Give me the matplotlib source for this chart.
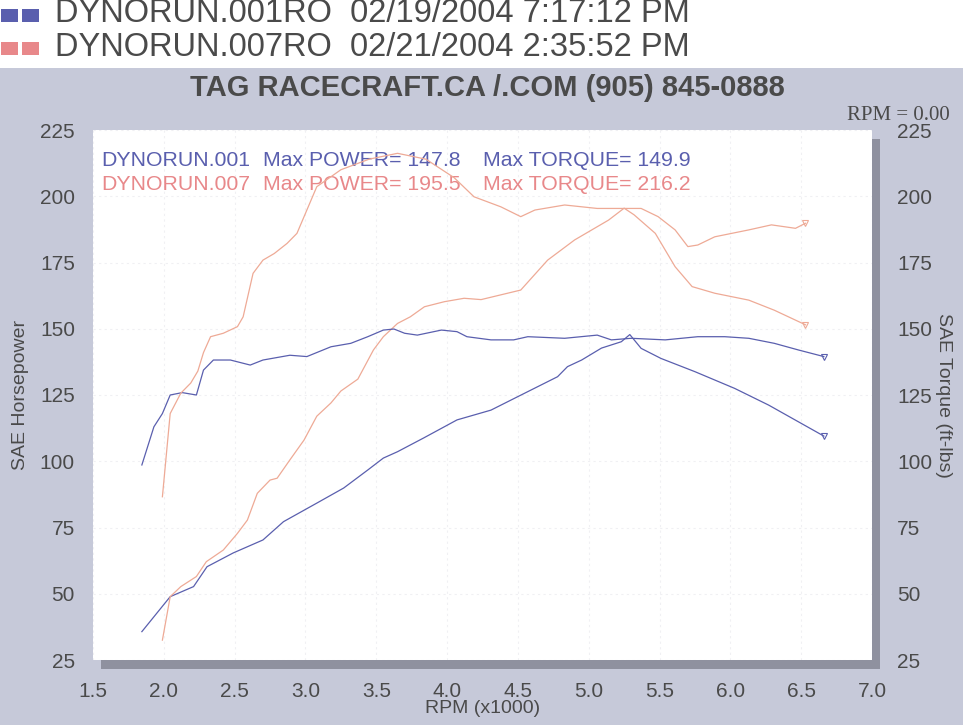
import matplotlib
matplotlib.use("Agg")
import matplotlib.pyplot as plt
from matplotlib.patches import Rectangle

# run 001 (blue) - horsepower
rpm_hp_001 = [1.845, 2.045, 2.21, 2.305, 2.49, 2.70, 2.845, 3.08, 3.27, 3.44, 3.55, 3.65,
              3.835, 4.07, 4.31, 4.50, 4.78, 4.85, 4.95, 5.09, 5.23, 5.29, 5.37, 5.51,
              5.75, 6.03, 6.27, 6.50, 6.66]
hp_001 = [35.7, 48.9, 52.7, 60.2, 65.4, 70.3, 77.2, 84.2, 89.9, 96.7, 101.2, 103.6,
          108.8, 115.6, 119.3, 124.4, 131.9, 135.7, 138.2, 142.7, 145.1, 147.8, 142.6, 138.8,
          133.8, 127.5, 121.2, 114.3, 109.5]

# run 001 (blue) - torque
rpm_tq_001 = [1.845, 1.93, 1.99, 2.045, 2.13, 2.23, 2.28, 2.35, 2.47, 2.61, 2.70, 2.89,
              3.01, 3.18, 3.32, 3.44, 3.55, 3.625, 3.70, 3.79, 3.96, 4.07, 4.14, 4.31,
              4.47, 4.57, 4.83, 5.06, 5.16, 5.30, 5.54, 5.77, 5.96, 6.13, 6.31, 6.48, 6.66]
tq_001 = [98.6, 113.0, 118.0, 125.0, 125.9, 125.0, 134.4, 138.2, 138.2, 136.3, 138.2, 140.0,
          139.5, 143.2, 144.5, 147.0, 149.5, 149.9, 148.3, 147.6, 149.5, 148.9, 147.0, 145.8,
          145.8, 147.0, 146.4, 147.6, 145.8, 146.4, 145.8, 147.0, 147.0, 146.4, 144.5, 142.0, 139.5]

# run 007 (red) - horsepower
rpm_hp_007 = [1.99, 2.045, 2.12, 2.23, 2.30, 2.42, 2.52, 2.59, 2.66, 2.75, 2.80, 2.89,
              2.99, 3.08, 3.18, 3.25, 3.37, 3.48, 3.55, 3.65, 3.74, 3.84, 3.98, 4.12,
              4.24, 4.52, 4.71, 4.90, 5.14, 5.25, 5.32, 5.47, 5.61, 5.73, 5.89, 6.13,
              6.31, 6.53]
hp_007 = [32.5, 48.9, 52.7, 56.5, 62.1, 66.5, 72.8, 77.8, 87.9, 92.9, 93.6, 100.5,
          108.0, 117.0, 122.0, 126.5, 131.0, 142.0, 147.0, 152.0, 154.5, 158.3, 160.2, 161.5,
          161.0, 164.6, 175.9, 183.5, 191.0, 195.5, 193.0, 186.0, 173.4, 165.9, 163.4, 160.8,
          157.0, 151.5]

# run 007 (red) - torque
rpm_tq_007 = [1.99, 2.045, 2.12, 2.19, 2.24, 2.28, 2.33, 2.42, 2.52, 2.56, 2.63, 2.70,
              2.78, 2.87, 2.94, 3.01, 3.08, 3.25, 3.45, 3.65, 3.85, 4.05, 4.19, 4.38,
              4.52, 4.62, 4.83, 5.06, 5.37, 5.49, 5.61, 5.70, 5.77, 5.89, 6.13, 6.29,
              6.46, 6.53]
tq_007 = [86.6, 118.0, 125.7, 129.5, 134.0, 141.0, 147.0, 148.3, 150.8, 154.5, 170.9, 175.9,
          178.4, 182.2, 186.0, 194.8, 203.6, 210.0, 214.0, 216.2, 214.0, 207.0, 199.8, 196.0,
          192.3, 194.8, 196.7, 195.4, 195.4, 192.3, 187.3, 181.0, 181.6, 184.7, 187.3, 189.2,
          187.9, 189.8]

run_names = ["DYNORUN.001RO  02/19/2004 7:17:12 PM", "DYNORUN.007RO  02/21/2004 2:35:52 PM"]
x_ticks = [1.5, 2.0, 2.5, 3.0, 3.5, 4.0, 4.5, 5.0, 5.5, 6.0, 6.5, 7.0]
y_ticks = [25, 50, 75, 100, 125, 150, 175, 200, 225]

BLUE = "#5a5fae"
RED = "#e8888a"
RED_LINE = "#eeaa96"
GRAY_TXT = "#4a4a4a"
BG = "#c6c9d9"
SHADOW = "#8f919f"

plt.rcParams["font.family"] = ["Liberation Sans", "DejaVu Sans"]

fig = plt.figure(figsize=(9.63, 7.25), dpi=100)
fig.patch.set_facecolor("white")

# gray panel below the run list
fig.patches.append(Rectangle((0, 0), 1, 1 - 68 / 725, transform=fig.transFigure,
                             facecolor=BG, edgecolor="none", zorder=0))

left, bottom = 93 / 963, 1 - 660 / 725
width, height = (872 - 93) / 963, (660 - 130) / 725

# drop shadow of the plot area
fig.patches.append(Rectangle((left + 8 / 963, bottom - 9 / 725), width, height,
                             transform=fig.transFigure, facecolor=SHADOW,
                             edgecolor="none", zorder=1))

ax = fig.add_axes([left, bottom, width, height], zorder=2)
ax.set_facecolor("white")
ax.set_xlim(1.5, 7.0)
ax.set_ylim(25, 225)
for s in ax.spines.values():
    s.set_visible(False)
ax.set_xticks(x_ticks)
ax.set_yticks(y_ticks)
ax.set_xticklabels([f"{v:.1f}" for v in x_ticks])
ax.tick_params(length=0, labelsize=15, colors=GRAY_TXT)
ax.tick_params(axis="x", pad=16)
ax.tick_params(axis="y", pad=13)
ax.grid(True, color="#f0f0f3", linewidth=0.8, linestyle=(0, (2, 3)))

ax2 = ax.twinx()
ax2.set_ylim(25, 225)
ax2.set_yticks(y_ticks)
for s in ax2.spines.values():
    s.set_visible(False)
ax2.tick_params(length=0, labelsize=15, colors=GRAY_TXT, pad=18)

lw = 0.9
ax.plot(rpm_hp_001, hp_001, color=BLUE, lw=lw)
ax2.plot(rpm_tq_001, tq_001, color=BLUE, lw=lw)
ax.plot(rpm_hp_007, hp_007, color=RED_LINE, lw=lw)
ax2.plot(rpm_tq_007, tq_007, color=RED_LINE, lw=lw)
# end-of-run markers
ax.plot(rpm_hp_001[-1], hp_001[-1], marker="v", ms=5, mfc="none", mec=BLUE, mew=0.8)
ax2.plot(rpm_tq_001[-1], tq_001[-1], marker="v", ms=5, mfc="none", mec=BLUE, mew=0.8)
ax.plot(rpm_hp_007[-1], hp_007[-1], marker="v", ms=5, mfc="none", mec=RED_LINE, mew=0.8)
ax2.plot(rpm_tq_007[-1], tq_007[-1], marker="v", ms=5, mfc="none", mec=RED_LINE, mew=0.8)

ax.set_xlabel("RPM (x1000)", fontsize=14, color=GRAY_TXT, labelpad=-1)
ax.set_ylabel("SAE Horsepower", fontsize=14, color=GRAY_TXT, labelpad=8)
ax2.set_ylabel("SAE Torque (ft-lbs)", fontsize=14, color=GRAY_TXT, rotation=270, labelpad=14)

# max values box text
tx = ax.transAxes
fs = 15.3
ax.text(8 / 779, 1 - 30 / 530, "DYNORUN.001", transform=tx, color=BLUE, fontsize=fs, va="center")
ax.text(170 / 779, 1 - 30 / 530, "Max POWER= 147.8", transform=tx, color=BLUE, fontsize=fs, va="center")
ax.text(390 / 779, 1 - 30 / 530, "Max TORQUE= 149.9", transform=tx, color=BLUE, fontsize=fs, va="center")
ax.text(8 / 779, 1 - 55 / 530, "DYNORUN.007", transform=tx, color=RED, fontsize=fs, va="center")
ax.text(170 / 779, 1 - 55 / 530, "Max POWER= 195.5", transform=tx, color=RED, fontsize=fs, va="center")
ax.text(390 / 779, 1 - 55 / 530, "Max TORQUE= 216.2", transform=tx, color=RED, fontsize=fs, va="center")

# title and rpm readout
fig.text(487 / 963, 1 - 88 / 725, "TAG RACECRAFT.CA /.COM (905) 845-0888", ha="center",
         va="center", fontsize=21, fontweight="bold", color=GRAY_TXT)
fig.text(950 / 963, 1 - 115 / 725, "RPM = 0.00", ha="right", va="center", fontsize=15,
         color=GRAY_TXT, family=["Liberation Serif", "DejaVu Serif"])

# run list at the top
sq_colors = [BLUE, RED]
for i, (name, c) in enumerate(zip(run_names, sq_colors)):
    yc = 1 - (14 + 33 * i) / 725
    for j in range(2):
        fig.patches.append(Rectangle(((1 + 21 * j) / 963, yc - 8 / 725), 17 / 963, 13 / 725,
                                     transform=fig.transFigure, facecolor=c,
                                     edgecolor="none", zorder=3))
    fig.text(55 / 963, yc, name, ha="left", va="center", fontsize=23.5, color=GRAY_TXT)

fig.savefig("out.png", dpi=100)
